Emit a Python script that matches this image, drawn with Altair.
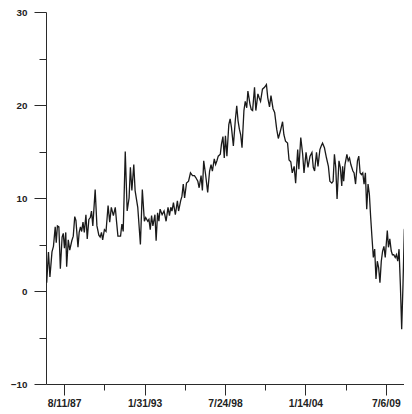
import altair as alt
import pandas as pd

# decimal years
years = [
    1986.42, 1986.54, 1986.64, 1986.78, 1986.88, 1987.00, 1987.07, 1987.15, 1987.25, 1987.35,
    1987.47, 1987.55, 1987.63, 1987.72, 1987.78, 1987.89, 1987.99, 1988.13, 1988.23, 1988.33,
    1988.41, 1988.55, 1988.63, 1988.72, 1988.80, 1988.89, 1988.98, 1989.09, 1989.18, 1989.29,
    1989.39, 1989.47, 1989.56, 1989.72, 1989.84, 1989.97, 1990.06, 1990.15, 1990.23, 1990.35,
    1990.46, 1990.60, 1990.71, 1990.82, 1990.96, 1991.09, 1991.18, 1991.27, 1991.45, 1991.54,
    1991.63, 1991.77, 1991.90, 1992.03, 1992.12, 1992.22, 1992.35, 1992.44, 1992.62, 1992.80,
    1992.93, 1993.07, 1993.16, 1993.30, 1993.38, 1993.47, 1993.56, 1993.65, 1993.79, 1993.87,
    1993.97, 1994.06, 1994.14, 1994.28, 1994.41, 1994.55, 1994.68, 1994.78, 1994.87, 1994.95,
    1995.05, 1995.18, 1995.32, 1995.40, 1995.54, 1995.63, 1995.72, 1995.81, 1995.94, 1996.08,
    1996.21, 1996.35, 1996.48, 1996.57, 1996.71, 1996.80, 1996.93, 1997.02, 1997.11, 1997.24,
    1997.38, 1997.51, 1997.61, 1997.70, 1997.83, 1997.92, 1998.01, 1998.10, 1998.24, 1998.32,
    1998.42, 1998.51, 1998.59, 1998.69, 1998.82, 1998.91, 1999.00, 1999.13, 1999.27, 1999.36,
    1999.45, 1999.54, 1999.63, 1999.72, 1999.85, 1999.94, 2000.04, 2000.12, 2000.26, 2000.35,
    2000.44, 2000.57, 2000.66, 2000.80, 2000.88, 2000.98, 2001.11, 2001.25, 2001.38, 2001.47,
    2001.59, 2001.69, 2001.83, 2001.94, 2002.08, 2002.19, 2002.33, 2002.48, 2002.57, 2002.68,
    2002.82, 2002.92, 2003.04, 2003.14, 2003.27, 2003.37, 2003.51, 2003.59, 2003.72, 2003.85,
    2003.94, 2004.08, 2004.21, 2004.35, 2004.48, 2004.57, 2004.66, 2004.79, 2004.89, 2005.02,
    2005.11, 2005.20, 2005.33, 2005.47, 2005.60, 2005.70, 2005.83, 2005.92, 2006.01, 2006.10,
    2006.19, 2006.32, 2006.41, 2006.51, 2006.57, 2006.64, 2006.73, 2006.86, 2006.95, 2007.04,
    2007.13, 2007.27, 2007.35, 2007.45, 2007.58, 2007.67, 2007.76, 2007.85, 2007.94, 2008.03,
    2008.12, 2008.21, 2008.30, 2008.39, 2008.48, 2008.57, 2008.66, 2008.75, 2008.84, 2008.93,
    2009.02, 2009.11, 2009.20, 2009.29, 2009.38, 2009.47, 2009.61, 2009.69, 2009.78, 2009.88,
    2009.96, 2010.05, 2010.15, 2010.23, 2010.32, 2010.41, 2010.50, 2010.59, 2010.68, 2010.77,
    2010.86, 2010.95, 2011.03,
]

values = [
    0.9, 4.2, 1.5, 4.2, 4.8, 6.9, 5.2, 7.0, 6.9, 2.4,
    5.8, 6.2, 4.6, 6.3, 2.6, 5.5, 4.4, 5.4, 5.9, 8.0,
    7.6, 4.7, 6.3, 6.9, 6.4, 7.4, 6.3, 8.2, 5.6, 7.7,
    7.9, 8.6, 7.0, 10.9, 7.0, 6.0, 5.8, 6.3, 5.5, 6.6,
    6.4, 9.2, 7.4, 9.0, 8.1, 9.0, 7.4, 5.9, 5.9, 7.2,
    6.4, 15.0, 8.6, 10.0, 13.3, 10.8, 13.6, 10.8, 9.0, 5.0,
    10.9, 7.5, 7.9, 7.5, 7.7, 6.6, 8.1, 7.0, 8.2, 5.4,
    8.4, 7.5, 8.8, 8.2, 8.6, 7.5, 9.0, 8.1, 9.0, 8.6,
    9.5, 8.2, 9.7, 8.6, 9.7, 10.2, 11.5, 10.0, 11.6, 11.8,
    12.7, 12.4, 12.4, 12.2, 11.8, 11.1, 12.4, 10.8, 14.0, 12.5,
    10.6, 12.9, 13.6, 12.9, 14.2, 13.6, 14.0, 14.5, 14.7, 15.8,
    16.6, 14.3, 16.7, 14.5, 17.9, 18.5, 17.6, 15.6, 18.5, 19.9,
    18.3, 17.4, 16.8, 15.4, 19.4, 20.4, 19.7, 21.5, 20.1, 19.5,
    19.4, 21.9, 19.4, 21.2, 20.8, 20.4, 21.7, 21.9, 22.2, 20.8,
    19.8, 21.0, 19.6, 19.2, 17.4, 16.4, 17.2, 18.2, 16.8, 16.1,
    15.9, 14.1, 13.9, 12.7, 13.4, 11.6, 15.2, 13.1, 16.5, 14.7,
    12.7, 14.9, 13.3, 14.5, 14.9, 13.3, 12.9, 14.9, 13.4, 15.2,
    15.6, 15.9, 15.4, 14.3, 13.4, 11.8, 11.6, 11.8, 14.7, 13.3,
    9.9, 14.0, 13.3, 11.3, 13.4, 11.8, 13.6, 14.7, 14.0, 14.3,
    13.6, 12.9, 12.7, 11.5, 14.0, 14.5, 12.7, 12.5, 12.7, 11.5,
    12.7, 8.8, 11.5, 10.4, 7.9, 5.7, 3.6, 4.5, 1.3, 3.2,
    2.5, 0.9, 3.2, 4.3, 4.8, 3.6, 6.5, 4.7, 5.6, 4.3,
    3.9, 3.9, 3.6, 3.9, 3.2, 4.5, 0.7, -4.1, 0.7, 6.6,
    7.0, 5.7, 3.6,
]

major_ticks = [(1987, 8, 11), (1993, 1, 31), (1998, 7, 24), (2004, 1, 14), (2009, 7, 6)]
minor_ticks = [(1990, 5, 7), (1995, 10, 28), (2001, 4, 19), (2006, 10, 10)]
y_ticks = [-10, -5, 0, 5, 10, 15, 20, 25, 30]


def frac_year(y):
    yr = int(y)
    start = pd.Timestamp(year=yr, month=1, day=1)
    end = pd.Timestamp(year=yr + 1, month=1, day=1)
    return (start + (end - start) * (y - yr)).strftime("%Y-%m-%dT%H:%M:%S")


df = pd.DataFrame({"date": [frac_year(y) for y in years], "value": values})

tick_vals = sorted(major_ticks + minor_ticks)
x_values = [alt.DateTime(year=a, month=b, date=c) for a, b, c in tick_vals]

is_major_x = "round((datum.value - datetime(1987,7,11)) / 864e8) % 2 == 0"
is_major_y = "datum.value % 10 == 0"

FONT = "Liberation Sans"
AX = "#2a2a2a"

chart = alt.Chart(df).mark_line(color="#1a1a1a", strokeWidth=1.3, clip=True).encode(
    x=alt.X(
        "date:T",
        title=None,
        scale=alt.Scale(domain=[alt.DateTime(year=1986, month=5, date=17),
                                alt.DateTime(year=2010, month=10, date=1)]),
        axis=alt.Axis(
            values=x_values,
            grid=False,
            labelExpr=is_major_x + " ? timeFormat(datum.value, '%-m/%-d/%y') : ''",
            tickSize={"condition": {"test": is_major_x, "value": 11}, "value": 6},
            labelPadding=3,
            labelFontSize=10.3,
            labelFont=FONT,
            labelFontWeight="bold",
            labelColor="#222",
            domainColor=AX,
            tickColor=AX,
            labelFlush=False,
            labelOverlap=False,
        ),
    ),
    y=alt.Y(
        "value:Q",
        title=None,
        scale=alt.Scale(domain=[-10, 30], nice=False, zero=False),
        axis=alt.Axis(
            values=y_ticks,
            grid=False,
            labelExpr=is_major_y + " ? datum.label : ''",
            tickSize={"condition": {"test": is_major_y, "value": 12}, "value": 7},
            labelPadding=7,
            labelFontSize=9.8,
            labelFont=FONT,
            labelFontWeight="bold",
            labelColor="#222",
            domainColor=AX,
            tickColor=AX,
            labelOverlap=False,
        ),
    ),
).properties(
    width=358,
    height=372,
    padding={"left": 38, "top": 4, "right": 0, "bottom": 24},
    autosize=alt.AutoSizeParams(type="none"),
).configure_view(stroke=None)

chart.save("out.html", embed_options={"renderer": "svg", "actions": False})
